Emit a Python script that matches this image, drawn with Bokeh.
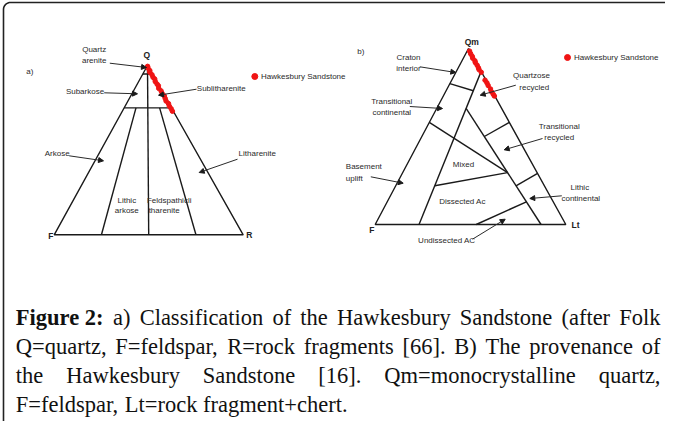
import numpy as np
from bokeh.plotting import figure
from bokeh.models import Range1d, Arrow, NormalHead
from bokeh.embed import file_html
from bokeh.resources import INLINE
from bokeh.core.properties import value

# ---------------- data ----------------
# Panel a: Folk Q-F-R compositions (%) of the Hawkesbury Sandstone samples
folk_Q = [99.5, 98.5, 97.0, 96.0, 94.5, 93.0, 92.0, 90.5, 89.0, 88.0,
          86.5, 85.0, 83.5, 82.0, 80.5, 79.0, 77.5, 76.0, 74.5, 73.0]
folk_F = [0.2, 0.5, 0.3, 0.8, 0.4, 0.6, 0.2, 0.7, 0.5, 0.3,
          0.9, 0.4, 0.6, 0.2, 0.5, 0.8, 0.3, 0.6, 0.4, 0.5]
folk_R = [0.3, 1.0, 2.7, 3.2, 5.1, 6.4, 7.8, 8.8, 10.5, 11.7,
          12.6, 14.6, 15.9, 17.8, 19.0, 20.2, 22.2, 23.4, 25.1, 26.5]

# Panel b: Dickinson Qm-F-Lt compositions (%)
dick_Qm = [98.5, 97.0, 95.5, 94.5, 93.0, 92.0, 90.5, 89.0, 88.0, 86.5,
           82.0, 80.5, 79.0, 77.0, 75.5, 74.0, 73.0]
dick_F = [0.2, 0.4, 0.3, 0.6, 0.2, 0.5, 0.3, 0.4, 0.6, 0.2,
          0.5, 0.3, 0.4, 0.2, 0.5, 0.3, 0.2]
dick_Lt = [1.3, 2.6, 4.2, 4.9, 6.8, 7.5, 9.2, 10.6, 11.4, 13.3,
           17.5, 19.2, 20.6, 22.8, 24.0, 25.7, 26.8]

# Field boundaries (ternary compositions)
folk_lines = [((95, 5, 0), (95, 0, 5)),
              ((75, 25, 0), (75, 0, 25)),
              ((100, 0, 0), (0, 50, 50)),
              ((75, 18.75, 6.25), (0, 75, 25)),
              ((75, 6.25, 18.75), (0, 25, 75))]
dick_lines = [((87, 0, 13), (0, 77, 23)),
              ((80, 20, 0), (76, 9.7, 14.3)),
              ((58, 42, 0), (29.5, 15.5, 55)),
              ((22, 57.5, 20.5), (29.5, 15.5, 55)),
              ((66, 18.6, 15.4), (0, 13, 87)),
              ((0, 47, 53), (12.9, 14.1, 73)),
              ((50, 17.2, 32.8), (58, 0, 42)),
              ((22, 14.9, 63.1), (29, 0, 71))]

# Layout: triangle apex pixel positions (top, left, right)
A_APEX = [(155, 73), (61.7, 242.3), (250.7, 242.3)]
B_APEX = [(476, 56), (382.7, 232), (573.3, 232)]

folk_labels = [(101.7, 57.3, "Quartz", "center"), (101.7, 68.3, "arenite", "center"),
               (92.5, 98.7, "Subarkose", "center"), (228.8, 96, "Sublitharenite", "center"),
               (64.7, 161, "Arkose", "center"), (264.8, 161, "Litharenite", "center"),
               (134.3, 207.7, "Lithic", "center"), (134.3, 218.3, "arkose", "center"),
               (176.7, 207.7, "Feldspathicli", "center"), (171.7, 218.3, "tharenite", "center"),
               (268.5, 84, "Hawkesbury Sandstone", "left")]
dick_labels = [(416, 65, "Craton", "center"), (416, 76, "interior", "center"),
               (539, 83.3, "Quartzose", "center"), (541.7, 95, "recycled", "center"),
               (399.3, 109, "Transitional", "center"), (399.3, 120, "continental", "center"),
               (566.7, 134, "Transitional", "center"), (566.7, 145, "recycled", "center"),
               (471, 171.7, "Mixed", "center"), (353.3, 174, "Basement", "left"),
               (353.3, 185.7, "uplift", "left"), (470, 209, "Dissected Ac", "center"),
               (587.3, 195, "Lithic", "center"), (588.3, 205.7, "continental", "center"),
               (454.3, 248.3, "Undissected AC", "center"),
               (581.5, 65, "Hawkesbury Sandstone", "left")]
corner_labels = [(154.3, 62.7, "Q"), (58.3, 243.5, "F"), (256.7, 242.7, "R"),
                 (479.3, 49.3, "Qm"), (379.3, 237, "F"), (583, 232.7, "Lt")]
panel_tags = [(37.3, 79, "a)"), (368.3, 59.3, "b)")]
legend_dots = [(262.3, 84), (575, 65)]

arrows = [((117.3, 70.7), (154, 75)), ((111.7, 100.3), (145, 101.3)),
          ((204, 96.7), (166, 102.7)), ((76.7, 163.3), (111, 168.3)),
          ((245, 166.7), (206.7, 180)),
          ((427.3, 74.3), (463.3, 80)), ((523.3, 92.7), (487.7, 102.7)),
          ((417.3, 114), (450, 116)), ((550, 146), (511.7, 157.3)),
          ((378.3, 184.3), (410.7, 190.7)), ((569.3, 203.3), (537.3, 206)),
          ((480, 246.7), (512.7, 226.7))]

caption_bold = "Figure 2:"
caption_lines = ["a) Classification of the Hawkesbury Sandstone (after Folk",
                 "Q=quartz, F=feldspar, R=rock fragments [66]. B) The provenance of",
                 "the Hawkesbury Sandstone [16]. Qm=monocrystalline quartz,",
                 "F=feldspar, Lt=rock fragment+chert."]
caption_justify = [True, True, True, False]
caption_baselines = [325, 354, 383, 412]

# ---------------- helpers ----------------
def tern(comp, apex):
    a, b, c = comp
    s = float(a + b + c)
    (tx, ty), (lx, ly), (rx, ry) = apex
    return ((a * tx + b * lx + c * rx) / s, (a * ty + b * ly + c * ry) / s)


def tern_many(A, B, C, apex):
    pts = [tern((a, b, c), apex) for a, b, c in zip(A, B, C)]
    return [p[0] for p in pts], [p[1] for p in pts]


TNR = {' ': 250, '!': 333, '(': 333, ')': 333, '+': 564, ',': 250, '-': 333, '.': 250,
       ':': 278, '=': 564, '[': 333, ']': 333,
       'A': 722, 'B': 667, 'C': 667, 'D': 722, 'E': 611, 'F': 556, 'G': 722, 'H': 722,
       'I': 333, 'J': 389, 'K': 722, 'L': 611, 'M': 889, 'N': 722, 'O': 722, 'P': 556,
       'Q': 722, 'R': 667, 'S': 556, 'T': 611, 'U': 722, 'V': 722, 'W': 944, 'X': 722,
       'Y': 722, 'Z': 611,
       'a': 444, 'b': 500, 'c': 444, 'd': 500, 'e': 444, 'f': 333, 'g': 500, 'h': 500,
       'i': 278, 'j': 278, 'k': 500, 'l': 278, 'm': 778, 'n': 500, 'o': 500, 'p': 500,
       'q': 500, 'r': 333, 's': 389, 't': 278, 'u': 500, 'v': 500, 'w': 722, 'x': 500,
       'y': 500, 'z': 444}
TNR_B = {'F': 611, 'i': 278, 'g': 500, 'u': 556, 'r': 444, 'e': 444, ' ': 250, '2': 500, ':': 333}


def wid(txt, size, table=TNR):
    return sum(table.get(ch, 500) for ch in txt) * size / 1000.0


# ---------------- figure ----------------
W, H = 665, 421
p = figure(width=W, height=H, x_range=Range1d(8, 8 + W), y_range=Range1d(8 + H, 8),
           output_backend="svg", toolbar_location=None, min_border=0,
           x_axis_location=None, y_axis_location=None)
p.grid.visible = False
p.outline_line_color = None
p.background_fill_color = "white"
p.border_fill_color = "white"

# frame with rounded top-left corner
t = np.linspace(0, np.pi / 2, 12)
fx = [11.0] + list(18 - 7 * np.cos(t)) + [8 + W]
fy = [8.0 + H] + list(17 - 7 * np.sin(t)) + [10.0]
p.line(fx, fy, line_color="#222222", line_width=1.6)

INK = "#1a1a1a"
for apex, lines in ((A_APEX, folk_lines), (B_APEX, dick_lines)):
    tri = [tern(c, apex) for c in ((100, 0, 0), (0, 100, 0), (0, 0, 100), (100, 0, 0))]
    p.line([q[0] for q in tri], [q[1] for q in tri], line_color=INK, line_width=1.4)
    x0, y0, x1, y1 = [], [], [], []
    for s, e in lines:
        a0, b0 = tern(s, apex)
        a1, b1 = tern(e, apex)
        x0.append(a0); y0.append(b0); x1.append(a1); y1.append(b1)
    p.segment(x0=x0, y0=y0, x1=x1, y1=y1, line_color=INK, line_width=1.4)

for (xs, ys), (xe, ye) in arrows:
    p.add_layout(Arrow(end=NormalHead(size=5, fill_color=INK, line_color=INK, line_width=1),
                       x_start=xs, y_start=ys, x_end=xe, y_end=ye,
                       line_color="#2a2a2a", line_width=1))

# sample points
ax, ay = tern_many(folk_Q, folk_F, folk_R, A_APEX)
p.scatter(ax, ay, size=4.5, fill_color="#f01414", line_color="#f01414")
bx, by = tern_many(dick_Qm, dick_F, dick_Lt, B_APEX)
p.scatter(bx, by, size=4.5, fill_color="#f01414", line_color="#f01414")
p.scatter([d[0] for d in legend_dots], [d[1] for d in legend_dots], size=6,
          fill_color="#f01414", line_color="#f01414")

# labels
SANS = value("Liberation Sans")
for lab in (folk_labels, dick_labels):
    for align in ("center", "left"):
        sel = [l for l in lab if l[3] == align]
        if not sel:
            continue
        p.text(x=[l[0] for l in sel], y=[l[1] for l in sel], text=[l[2] for l in sel],
               text_font=SANS, text_font_size="8px", text_color="#2a2a2a",
               text_align=align, text_baseline="middle")
p.text(x=[c[0] for c in corner_labels], y=[c[1] for c in corner_labels],
       text=[c[2] for c in corner_labels], text_font=SANS, text_font_size="8.5px",
       text_font_style="bold", text_color="#222222", text_align="center",
       text_baseline="middle")
p.text(x=[c[0] for c in panel_tags], y=[c[1] for c in panel_tags],
       text=[c[2] for c in panel_tags], text_font=SANS, text_font_size="8px",
       text_color="#2a2a2a", text_align="center", text_baseline="middle")

# caption (justified like the source)
CS = 22.5
SERIF = value("Liberation Serif")
LEFT, RIGHT = 23.3, 668.0
wx, wy, wt = [], [], []
p.text(x=[LEFT], y=[caption_baselines[0]], text=[caption_bold], text_font=SERIF,
       text_font_size=f"{CS}px", text_font_style="bold", text_color="#111111",
       text_align="left", text_baseline="alphabetic")
for i, (line, just, base) in enumerate(zip(caption_lines, caption_justify, caption_baselines)):
    words = line.split(" ")
    widths = [wid(w, CS) for w in words]
    if i == 0:
        bw = wid(caption_bold, CS, TNR_B)
        gap = (RIGHT - LEFT - bw - sum(widths)) / len(words)
        start = LEFT + bw + gap
    elif just:
        gap = (RIGHT - LEFT - sum(widths)) / (len(words) - 1)
        start = LEFT
    else:
        gap = wid(" ", CS)
        start = LEFT
    x = start
    for w, ww in zip(words, widths):
        wx.append(x); wy.append(base); wt.append(w)
        x += ww + gap
p.text(x=wx, y=wy, text=wt, text_font=SERIF, text_font_size=f"{CS}px",
       text_color="#111111", text_align="left", text_baseline="alphabetic")

open("out.html", "w").write(file_html(p, INLINE))
